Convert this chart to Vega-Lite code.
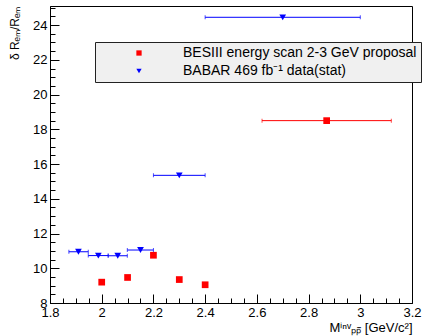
{
  "$schema": "https://vega.github.io/schema/vega-lite/v6.json",
  "width": 362,
  "height": 297,
  "autosize": "none",
  "padding": {"left": 50, "top": 6, "right": 10, "bottom": 33},
  "background": "white",
  "config": {
    "font": "Liberation Sans",
    "view": {"stroke": "black", "strokeWidth": 1},
    "axis": {
      "grid": false,
      "ticks": true,
      "domain": true,
      "zindex": 1,
      "labelOverlap": false,
      "domainColor": "black",
      "tickColor": "black",
      "tickWidth": 1,
      "tickOpacity": 1,
      "labelColor": "black",
      "titleColor": "black",
      "labelFont": "Liberation Sans",
      "titleFont": "Liberation Sans",
      "labelFontSize": 13,
      "titleFontSize": 12,
      "titleFontWeight": "normal"
    }
  },
  "data": {
    "values": [
      {"series": "BESIII energy scan 2-3 GeV proposal", "x": 2.0, "y": 9.2},
      {"series": "BESIII energy scan 2-3 GeV proposal", "x": 2.1, "y": 9.47},
      {"series": "BESIII energy scan 2-3 GeV proposal", "x": 2.2, "y": 10.75},
      {"series": "BESIII energy scan 2-3 GeV proposal", "x": 2.3, "y": 9.35},
      {"series": "BESIII energy scan 2-3 GeV proposal", "x": 2.4, "y": 9.05},
      {"series": "BESIII energy scan 2-3 GeV proposal", "x": 2.87, "y": 18.5, "xlo": 2.62, "xhi": 3.12},
      {"series": "BABAR 469 fb\u207b\u00b9 data(stat)", "x": 1.91, "y": 10.95, "xlo": 1.873, "xhi": 1.948},
      {"series": "BABAR 469 fb\u207b\u00b9 data(stat)", "x": 1.987, "y": 10.73, "xlo": 1.948, "xhi": 2.025},
      {"series": "BABAR 469 fb\u207b\u00b9 data(stat)", "x": 2.062, "y": 10.72, "xlo": 2.025, "xhi": 2.099},
      {"series": "BABAR 469 fb\u207b\u00b9 data(stat)", "x": 2.15, "y": 11.05, "xlo": 2.099, "xhi": 2.2},
      {"series": "BABAR 469 fb\u207b\u00b9 data(stat)", "x": 2.3, "y": 15.35, "xlo": 2.2, "xhi": 2.4},
      {"series": "BABAR 469 fb\u207b\u00b9 data(stat)", "x": 2.7, "y": 24.45, "xlo": 2.4, "xhi": 3.0}
    ]
  },
  "encoding": {
    "x": {
      "field": "x",
      "type": "quantitative",
      "scale": {"domain": [1.8, 3.2], "nice": false, "zero": false},
      "axis": {
        "values": [1.8,1.85,1.9,1.95,2.0,2.05,2.1,2.15,2.2,2.25,2.3,2.35,2.4,2.45,2.5,2.55,2.6,2.65,2.7,2.75,2.8,2.85,2.9,2.95,3.0,3.05,3.1,3.15,3.2],
        "labelExpr": "abs(datum.value*5 - round(datum.value*5)) < 0.001 ? format(datum.value, '~g') : ''",
        "tickSize": {"condition": {"test": "abs(datum.value*5 - round(datum.value*5)) < 0.001", "value": -9}, "value": -5},
        "labelOverlap": false,
        "labelFlush": false,
        "labelPadding": 12,
        "title": "M\u2071\u207f\u1d5b\u209a\u209a\u0304 [GeV/c\u00b2]",
        "titleAnchor": "end",
        "titleFontSize": 13,
        "titlePadding": -2
      }
    },
    "y": {
      "field": "y",
      "type": "quantitative",
      "scale": {"domain": [8, 25.1], "nice": false, "zero": false},
      "axis": {
        "values": [8,8.5,9,9.5,10,10.5,11,11.5,12,12.5,13,13.5,14,14.5,15,15.5,16,16.5,17,17.5,18,18.5,19,19.5,20,20.5,21,21.5,22,22.5,23,23.5,24,24.5,25],
        "labelExpr": "datum.value % 2 == 0 ? format(datum.value, 'd') : ''",
        "tickSize": {"condition": {"test": "datum.value % 2 == 0", "value": -9}, "value": -5},
        "labelOverlap": false,
        "labelFlush": false,
        "labelPadding": 12,
        "title": "\u03b4 R\u2091\u2098/R\u2091\u2098",
        "titleAnchor": "end",
        "titleFontSize": 12,
        "titlePadding": 11
      }
    }
  },
  "layer": [
    {
      "transform": [{"filter": "isValid(datum.xlo)"}],
      "mark": {"type": "rule", "strokeWidth": 1},
      "encoding": {
        "x": {"field": "xlo", "type": "quantitative"},
        "x2": {"field": "xhi"},
        "color": {"condition": {"test": "indexof(datum.series, 'BABAR') >= 0", "value": "#0000ff"}, "value": "#ff0000"}
      }
    },
    {
      "transform": [{"filter": "isValid(datum.xlo)"}],
      "mark": {"type": "tick", "orient": "vertical", "size": 4, "thickness": 1},
      "encoding": {
        "x": {"field": "xlo", "type": "quantitative"},
        "color": {"condition": {"test": "indexof(datum.series, 'BABAR') >= 0", "value": "#0000ff"}, "value": "#ff0000"}
      }
    },
    {
      "transform": [{"filter": "isValid(datum.xhi)"}],
      "mark": {"type": "tick", "orient": "vertical", "size": 4, "thickness": 1},
      "encoding": {
        "x": {"field": "xhi", "type": "quantitative"},
        "color": {"condition": {"test": "indexof(datum.series, 'BABAR') >= 0", "value": "#0000ff"}, "value": "#ff0000"}
      }
    },
    {
      "mark": {"type": "point", "filled": true, "size": 45, "opacity": 1},
      "encoding": {
        "color": {
          "field": "series",
          "type": "nominal",
          "scale": {
            "domain": ["BESIII energy scan 2-3 GeV proposal", "BABAR 469 fb\u207b\u00b9 data(stat)"],
            "range": ["#ff0000", "#0000ff"]
          },
          "legend": {
            "orient": "none",
            "legendX": 45,
            "legendY": 36,
            "title": null,
            "fillColor": "#f0f0f0",
            "strokeColor": "#222222",
            "padding": 4,
            "labelFont": "Liberation Sans",
            "labelFontSize": 14,
            "labelColor": "black",
            "labelLimit": 400,
            "symbolSize": 28,
            "symbolOffset": 33,
            "labelOffset": 37,
            "rowPadding": 4,
            "symbolStrokeWidth": 0
          }
        },
        "shape": {
          "field": "series",
          "type": "nominal",
          "scale": {
            "domain": ["BESIII energy scan 2-3 GeV proposal", "BABAR 469 fb\u207b\u00b9 data(stat)"],
            "range": ["square", "triangle-down"]
          }
        }
      }
    }
  ]
}
